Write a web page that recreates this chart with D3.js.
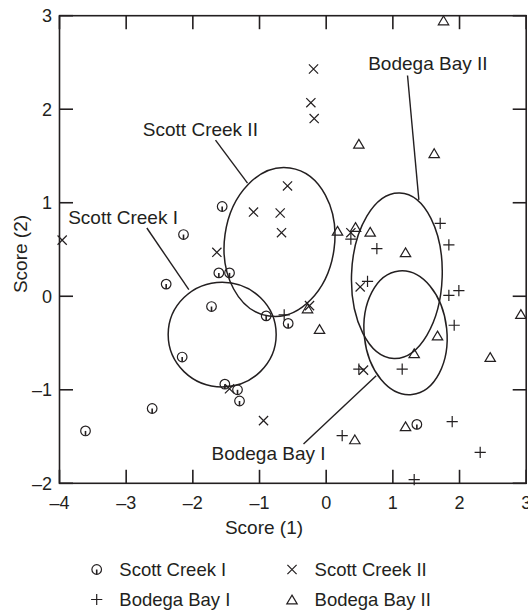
<!DOCTYPE html>
<html>
<head>
<meta charset="utf-8">
<script src="https://cdn.jsdelivr.net/npm/d3@7"></script>
<style>
  html, body { margin: 0; padding: 0; background: #fff; }
  svg { display: block; }
  text { font-family: "Liberation Sans", Arial, Helvetica, sans-serif; fill: #231f20; }
</style>
</head>
<body>
<svg id="chart" width="528" height="610"></svg>
<script>
// ---------- DATA ----------
const xTicks = [-4, -3, -2, -1, 0, 1, 2, 3];
const yTicks = [-2, -1, 0, 1, 2, 3];
const xTickLabels = ["\u20134", "\u20133", "\u20132", "\u20131", "0", "1", "2", "3"];
const yTickLabels = ["\u20132", "\u20131", "0", "1", "2", "3"];

const seriesNames = ["Scott Creek I", "Scott Creek II", "Bodega Bay I", "Bodega Bay II"];

const scottCreekI = [
  [-1.56, 0.96], [-2.14, 0.66], [-2.40, 0.13], [-1.61, 0.25], [-1.45, 0.25],
  [-1.72, -0.11], [-2.16, -0.65], [-1.52, -0.94], [-1.33, -1.00], [-1.30, -1.12],
  [-2.61, -1.20], [-3.61, -1.44], [-0.90, -0.21], [-0.57, -0.29], [1.36, -1.37]
];
const scottCreekII = [
  [-0.19, 2.43], [-0.23, 2.07], [-0.18, 1.90], [-0.58, 1.18], [-0.69, 0.89],
  [-0.67, 0.68], [-1.09, 0.90], [-1.64, 0.47], [-3.96, 0.60], [0.37, 0.68],
  [0.51, 0.10], [-1.45, -0.99], [-0.94, -1.33], [-0.25, -0.10], [0.56, -0.79]
];
const bodegaBayI = [
  [1.71, 0.78], [1.84, 0.55], [0.76, 0.51], [0.37, 0.61], [0.62, 0.16],
  [1.84, 0.01], [1.99, 0.06], [1.92, -0.31], [1.14, -0.78], [0.49, -0.78],
  [0.24, -1.49], [1.89, -1.34], [2.31, -1.67], [1.32, -1.96], [-0.63, -0.20]
];
const bodegaBayII = [
  [1.76, 2.95], [0.49, 1.63], [1.62, 1.53], [0.17, 0.70], [0.44, 0.74],
  [0.66, 0.69], [1.19, 0.47], [1.67, -0.42], [1.32, -0.61], [2.46, -0.65],
  [2.92, -0.19], [1.19, -1.39], [0.43, -1.53], [-0.10, -0.35], [-0.28, -0.13]
];

// group ellipses (data units): centre, semi-axes, tilt
const ellipseNames = ["Scott Creek I", "Scott Creek II", "Bodega Bay II", "Bodega Bay I"];
const ellipseCx = [-1.56, -0.70, 1.06, 1.19];
const ellipseCy = [-0.41, 0.58, 0.22, -0.39];
const ellipseRx = [0.81, 0.825, 0.68, 0.62];
const ellipseRy = [0.56, 0.80, 0.885, 0.665];
const ellipseTilt = [0, 8, 2, -6];

// annotation labels and leader lines (data units)
const annoText = ["Scott Creek II", "Scott Creek I", "Bodega Bay II", "Bodega Bay I"];
const annoX = [-2.75, -3.87, 0.63, -1.72];
const annoY = [1.71, 0.77, 2.42, -1.75];
const leaderFrom = [[-1.66, 1.67], [-2.69, 0.73], [1.22, 2.36], [-0.34, -1.58]];
const leaderTo = [[-1.18, 1.21], [-2.06, 0.07], [1.39, 1.03], [0.75, -0.85]];

// ---------- LAYOUT ----------
const ink = "#231f20";
const svg = d3.select("#chart");
const x = d3.scaleLinear().domain([-4, 3]).range([59.5, 526.2]);
const y = d3.scaleLinear().domain([-2, 3]).range([483.3, 15.7]);
const tickLen = 13.5;

// symbols
function drawSymbol(g, type, px, py) {
  const s = g.append("g").attr("transform", `translate(${px},${py})`)
    .attr("fill", "none").attr("stroke", ink).attr("stroke-width", 1.2);
  if (type === 0) {
    s.append("circle").attr("r", 4.8);
    s.append("line").attr("x1", 0).attr("y1", 0).attr("x2", 0).attr("y2", 4.8).attr("stroke-width", 1.6);
  } else if (type === 1) {
    const h = 4.6;
    s.append("path").attr("d", `M${-h},${-h}L${h},${h}M${-h},${h}L${h},${-h}`);
  } else if (type === 2) {
    const h = 5.6;
    s.append("path").attr("d", `M${-h},0L${h},0M0,${-h}L0,${h}`);
  } else {
    const w = 5.2, h = 4.4;
    s.append("path").attr("d", `M0,${-h}L${w},${h}L${-w},${h}Z`);
  }
}

// ellipses
const eg = svg.append("g");
ellipseNames.forEach((n, i) => {
  const cx = x(ellipseCx[i]), cy = y(ellipseCy[i]);
  eg.append("ellipse")
    .attr("cx", cx).attr("cy", cy)
    .attr("rx", x(ellipseCx[i] + ellipseRx[i]) - cx)
    .attr("ry", cy - y(ellipseCy[i] + ellipseRy[i]))
    .attr("transform", `rotate(${ellipseTilt[i]},${cx},${cy})`)
    .attr("fill", "none").attr("stroke", ink).attr("stroke-width", 1.5);
});

// leader lines and labels
const ag = svg.append("g");
annoText.forEach((t, i) => {
  ag.append("line")
    .attr("x1", x(leaderFrom[i][0])).attr("y1", y(leaderFrom[i][1]))
    .attr("x2", x(leaderTo[i][0])).attr("y2", y(leaderTo[i][1]))
    .attr("stroke", ink).attr("stroke-width", 1.4);
  ag.append("text").attr("x", x(annoX[i])).attr("y", y(annoY[i]))
    .attr("font-size", 19).text(t);
});

// points
const pg = svg.append("g");
[scottCreekI, scottCreekII, bodegaBayI, bodegaBayII].forEach((arr, k) => {
  arr.forEach(d => drawSymbol(pg, k, x(d[0]), y(d[1])));
});

// axes frame + inward ticks
const axg = svg.append("g").attr("stroke", ink).attr("stroke-width", 1.6).attr("fill", "none");
axg.append("rect").attr("x", x(-4)).attr("y", y(3))
  .attr("width", x(3) - x(-4)).attr("height", y(-2) - y(3));
xTicks.forEach(v => {
  axg.append("line").attr("x1", x(v)).attr("x2", x(v)).attr("y1", y(-2)).attr("y2", y(-2) - tickLen);
  axg.append("line").attr("x1", x(v)).attr("x2", x(v)).attr("y1", y(3)).attr("y2", y(3) + tickLen);
});
yTicks.forEach(v => {
  axg.append("line").attr("y1", y(v)).attr("y2", y(v)).attr("x1", x(-4)).attr("x2", x(-4) + tickLen);
  axg.append("line").attr("y1", y(v)).attr("y2", y(v)).attr("x1", x(3)).attr("x2", x(3) - tickLen);
});

// tick labels
xTicks.forEach((v, i) => {
  svg.append("text").attr("x", x(v)).attr("y", 508.5).attr("text-anchor", "middle")
    .attr("font-size", 18).text(xTickLabels[i]);
});
yTicks.forEach((v, i) => {
  svg.append("text").attr("x", 52).attr("y", y(v)).attr("dy", "0.36em").attr("text-anchor", "end")
    .attr("font-size", 18).text(yTickLabels[i]);
});

// axis titles
svg.append("text").attr("x", 264).attr("y", 533.5).attr("text-anchor", "middle")
  .attr("font-size", 19).text("Score (1)");
svg.append("text").attr("transform", "translate(27,254) rotate(-90)").attr("text-anchor", "middle")
  .attr("font-size", 19).text("Score (2)");

// legend
const lg = svg.append("g");
const legCols = [96.7, 292];
const legRows = [569.5, 599.5];
seriesNames.forEach((n, k) => {
  const cx = legCols[k % 2], cy = legRows[Math.floor(k / 2)];
  drawSymbol(lg, k, cx, cy);
  lg.append("text").attr("x", cx + 22.6).attr("y", cy).attr("dy", "0.36em")
    .attr("font-size", 18.5).text(n);
});
</script>
</body>
</html>
